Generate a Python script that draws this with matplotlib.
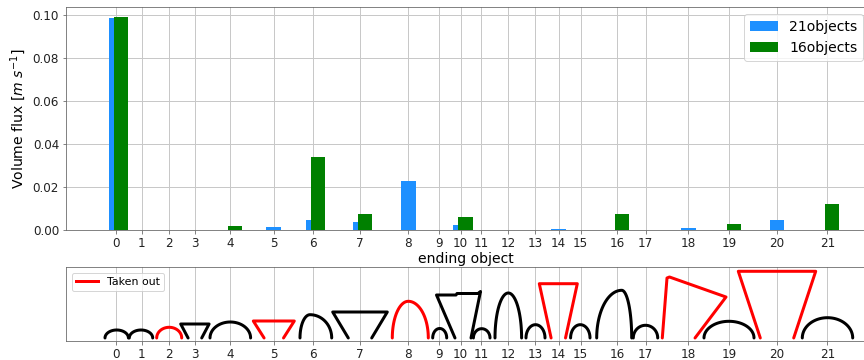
import numpy as np
import matplotlib
matplotlib.use("Agg")
import matplotlib.pyplot as plt

# Object numbering and their positions along the channel
object_ids = list(range(22))
object_x = [5.00, 7.57, 10.33, 12.90, 16.40, 20.75, 24.73, 29.40, 34.23, 37.33, 39.47,
            41.53, 44.23, 46.93, 49.27, 51.47, 55.13, 57.97, 62.23, 66.30, 71.10, 76.13]

# Volume flux leaving through each object, for the two configurations
flux_21 = [0.0987, 0.0, 0.0, 0.0, 0.0, 0.0012, 0.0047, 0.0036, 0.0227, 0.0, 0.0023,
           0.0, 0.0, 0.0, 0.0003, 0.0, 0.0, 0.0, 0.0008, 0.0, 0.0047, 0.0]
flux_16 = [0.0991, 0.0, 0.0, 0.0, 0.0017, 0.0, 0.0339, 0.0075, 0.0, 0.0, 0.0061,
           0.0, 0.0, 0.0, 0.0, 0.0, 0.0075, 0.0, 0.0, 0.0027, 0.0, 0.0121]

# Objects removed in the 16-object configuration
taken_out = [2, 5, 8, 14, 18, 20]

# Object outlines
# arches: id -> (peak x, left half-width, right half-width, height)
arches = {
    0: (5.07, 1.17, 1.17, 0.80),
    1: (7.50, 1.17, 1.17, 0.80),
    2: (10.32, 1.25, 1.25, 1.07),
    4: (16.43, 2.03, 2.03, 1.60),
    6: (24.40, 1.00, 2.17, 2.33),
    8: (34.23, 1.60, 2.00, 3.67),
    9: (37.37, 0.70, 0.70, 0.95),
    11: (41.57, 0.83, 0.83, 0.93),
    12: (44.23, 1.33, 1.33, 4.50),
    13: (46.95, 0.95, 0.95, 1.33),
    15: (51.43, 0.97, 0.97, 1.33),
    16: (55.57, 2.50, 1.00, 4.77),
    17: (57.95, 1.22, 1.22, 1.27),
    19: (66.30, 2.50, 2.50, 1.67),
    21: (76.15, 2.52, 2.52, 2.03),
}
# trapezoids (open at the bottom): id -> (centre x, top half-width, bottom half-width, height)
trapezoids = {
    3: (12.89, 1.42, 0.68, 1.40),
    5: (20.78, 2.05, 0.97, 1.70),
    7: (29.40, 2.73, 1.17, 2.60),
    14: (49.23, 1.90, 0.72, 5.43),
    20: (71.10, 3.87, 1.67, 6.67),
}
# irregular outlines: id -> (x vertices, y vertices)
irregular = {
    10: ([38.90, 37.05, 39.00, 39.10, 41.20, 41.45, 40.50],
         [0.00, 4.30, 4.30, 4.45, 4.45, 4.65, 0.00]),
    18: ([59.63, 60.10, 60.35, 66.00, 62.90],
         [0.00, 6.00, 6.10, 4.10, 0.00]),
}

spine_col = "#666666"
grid_col = "#c8c8c8"

fig = plt.figure(figsize=(12, 5), dpi=72)
ax = fig.add_axes([66 / 864, 130 / 360, 800 / 864, 222.7 / 360])
ax2 = fig.add_axes([66 / 864, 19 / 360, 800 / 864, 74 / 360])

xlim = (0, 80.0)

# --- flux bars ---
xs = np.array(object_x)
ax.bar(xs, flux_21, width=1.45, color="dodgerblue", label="21objects", zorder=2)
ax.bar(xs + 0.48, flux_16, width=1.42, color="green", label="16objects", zorder=3)
ax.set_xlim(*xlim)
ax.set_ylim(0, 0.1037)
ax.set_yticks([0.0, 0.02, 0.04, 0.06, 0.08, 0.10])
ax.set_yticklabels([f"{v:.2f}" for v in [0.0, 0.02, 0.04, 0.06, 0.08, 0.10]])
ax.set_xticks(object_x)
ax.set_xticklabels([str(i) for i in object_ids])
ax.set_axisbelow(True)
ax.grid(True, color=grid_col, lw=1.0)
ax.set_xlabel("ending object", fontsize=14, labelpad=2)
ax.set_ylabel(r"Volume flux [$m\ s^{-1}$]", fontsize=14)
ax.legend(loc="upper right", fontsize=14, bbox_to_anchor=(1.005, 1.0))

# --- object outlines ---
t = np.linspace(0, np.pi, 80)
for oid, (px, al, ar, h) in arches.items():
    c = np.cos(t)
    x = px + np.where(c >= 0, ar, al) * c
    y = h * np.sin(t)
    col = "red" if oid in taken_out else "black"
    ax2.plot(x, y, color=col, lw=3, solid_capstyle="round", zorder=3)
for oid, (cx, tw, bw, h) in trapezoids.items():
    x = [cx - bw, cx - tw, cx + tw, cx + bw]
    y = [0, h, h, 0]
    col = "red" if oid in taken_out else "black"
    ax2.plot(x, y, color=col, lw=3, solid_capstyle="round", zorder=3)
for oid, (x, y) in irregular.items():
    col = "red" if oid in taken_out else "black"
    ax2.plot(x, y, color=col, lw=3, solid_capstyle="round", zorder=3)

ax2.plot([], [], color="red", lw=3, label="Taken out")
ax2.set_xlim(*xlim)
ax2.set_ylim(-0.3, 7.1)
ax2.set_yticks([])
ax2.set_xticks(object_x)
ax2.set_xticklabels([str(i) for i in object_ids])
ax2.set_axisbelow(True)
ax2.grid(True, axis="x", color=grid_col, lw=1.0)
ax2.legend(loc="upper left", fontsize=11)

for a in (ax, ax2):
    for s in a.spines.values():
        s.set_color(spine_col)
    a.tick_params(colors=spine_col, labelcolor="#222222", labelsize=12, length=3.5)

fig.savefig("out.png", dpi=72)
